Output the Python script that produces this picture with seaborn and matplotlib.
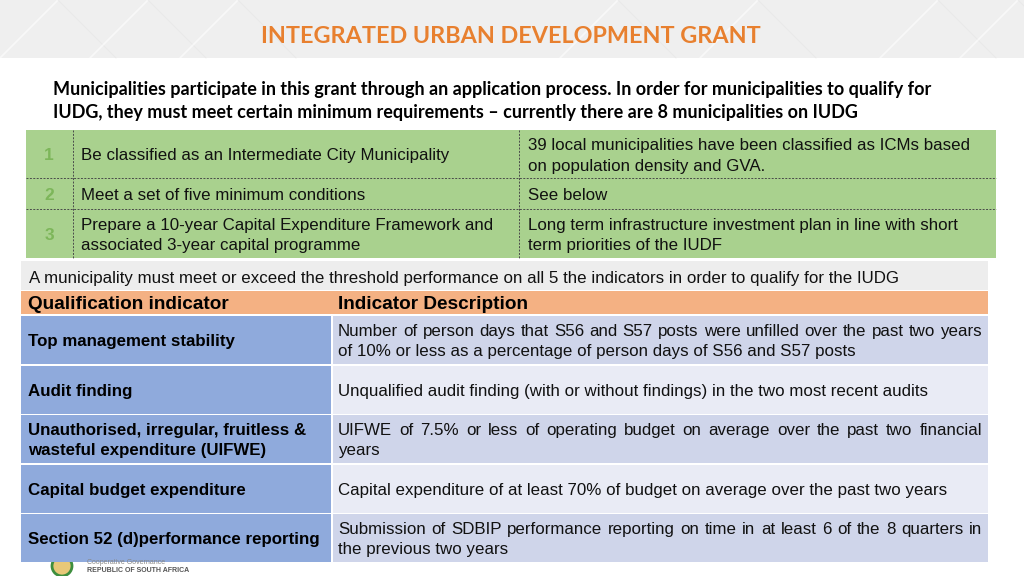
import matplotlib
matplotlib.use("Agg")
import matplotlib.pyplot as plt
import seaborn as sns
from matplotlib.patches import Rectangle, Circle

# ---------------- content ----------------
title = "INTEGRATED URBAN DEVELOPMENT GRANT"
intro_lines = [
    "Municipalities participate in this grant through an application process. In order for municipalities to qualify for",
    "IUDG, they must meet certain minimum requirements \u2013 currently there are 8 municipalities on IUDG",
]
req_numbers = ["1", "2", "3"]
req_items = [
    ["Be classified as an Intermediate City Municipality"],
    ["Meet a set of five minimum conditions"],
    ["Prepare a 10-year Capital Expenditure Framework and", "associated 3-year capital programme"],
]
req_notes = [
    ["39 local municipalities have been classified as ICMs based", "on population density and GVA."],
    ["See below"],
    ["Long term infrastructure investment plan in line with short", "term priorities of the IUDF"],
]
threshold_note = ("A municipality must meet or exceed the threshold performance on all 5 the "
                  "indicators in order to qualify for the IUDG")
col_headers = ["Qualification indicator", "Indicator Description"]
indicators = [
    ["Top management stability"],
    ["Audit finding"],
    ["Unauthorised, irregular, fruitless &", "wasteful expenditure (UIFWE)"],
    ["Capital budget expenditure"],
    ["Section 52 (d)performance reporting"],
]
descriptions = [
    ["Number of person days that S56 and S57 posts were unfilled over the past two years",
     "of 10% or less as a percentage of person days of S56 and S57 posts"],
    ["Unqualified audit finding (with or without findings) in the two most recent audits"],
    ["UIFWE of 7.5% or less of operating budget on average over the past two financial",
     "years"],
    ["Capital expenditure of at least 70% of budget on average over the past two years"],
    ["Submission of SDBIP performance reporting on time in at least 6 of the 8 quarters in",
     "the previous two years"],
]
footer_lines = ["Cooperative Governance", "REPUBLIC OF SOUTH AFRICA"]

# ---------------- style ----------------
sns.set_theme(style="white")
plt.rcParams["font.family"] = ["Liberation Sans", "DejaVu Sans"]

GREEN = "#A9D18E"
NUM_GREEN = "#7DB65A"
ORANGE = "#F4B183"
BLUE = "#8FAADC"
ROW_DARK = "#CFD5EA"
ROW_LIGHT = "#E9EBF5"
GRAY_BAND = "#EDEDED"
TITLE_ORANGE = "#E8802F"
BODY = 12.2
DY = 1.8  # optical centring offset

fig = plt.figure(figsize=(10.24, 5.76), dpi=100)
ax = fig.add_axes([0, 0, 1, 1])
ax.set_xlim(0, 1024)
ax.set_ylim(576, 0)
ax.axis("off")
fig.canvas.draw()
renderer = fig.canvas.get_renderer()


def box(x, y, w, h, c, z=1):
    ax.add_patch(Rectangle((x, y), w, h, facecolor=c, edgecolor="none", lw=0, zorder=z))


def justified(x0, x1, y, line, **kw):
    """Place the words of a line so that it spans x0..x1 (justified paragraph line)."""
    words = line.split(" ")
    arts, widths = [], []
    for w in words:
        t = ax.text(x0, y, w, ha="left", va="center", **kw)
        bb = t.get_window_extent(renderer)
        arts.append(t)
        widths.append(bb.width)
    gap = (x1 - x0 - sum(widths)) / max(len(words) - 1, 1)
    x = x0
    for t, wd in zip(arts, widths):
        t.set_x(x)
        x += wd + gap


# ---------------- header band ----------------
box(0, 0, 1024, 58, "#EFEFEF", 0)
for x0 in [0, 90, 180, 560, 700, 880, 960]:
    ax.plot([x0, x0 + 58], [58, 0], color="white", lw=1.2, alpha=0.6, zorder=1)
    ax.plot([x0 + 58, x0 + 116], [0, 58], color="#E6E6E6", lw=0.8, alpha=0.6, zorder=1)
ax.text(511, 35 + DY, title, ha="center", va="center", color=TITLE_ORANGE,
        fontsize=16.8, fontweight="bold", family=["Lato", "DejaVu Sans"], zorder=2)

# ---------------- intro ----------------
for i, line in enumerate(intro_lines):
    ax.text(53, 88 + 23 * i + DY, line, ha="left", va="center", color="black",
            fontsize=13, fontweight="bold", family=["Lato", "DejaVu Sans"])

# ---------------- top requirements table ----------------
t_left, t_c1, t_c2, t_right = 26, 73, 519, 996
row_bounds = [130, 178, 209, 258]
box(t_left, row_bounds[0], t_right - t_left, row_bounds[-1] - row_bounds[0], GREEN)
for yb in row_bounds[1:-1]:
    ax.plot([t_left, t_right], [yb, yb], color="#4A4A4A", lw=0.7,
            ls=(0, (2, 1.5)), zorder=2)
for xb in [t_c1, t_c2]:
    ax.plot([xb, xb], [row_bounds[0], row_bounds[-1]], color="#4A4A4A", lw=0.7,
            ls=(0, (2, 1.5)), zorder=2)

LINE_GAP = 20.5
for i in range(len(req_numbers)):
    yc = (row_bounds[i] + row_bounds[i + 1]) / 2 + DY
    ax.text(49, yc, req_numbers[i], ha="center", va="center", color=NUM_GREEN,
            fontsize=12.5, fontweight="bold", zorder=3)
    for lines, x in [(req_items[i], 81), (req_notes[i], 528)]:
        n = len(lines)
        for k, line in enumerate(lines):
            y = yc + (k - (n - 1) / 2) * LINE_GAP
            ax.text(x, y, line, ha="left", va="center", color="#111111",
                    fontsize=BODY, zorder=3)

# ---------------- bottom indicator table ----------------
b_left, b_mid, b_right = 21, 332, 988
box(b_left, 261, b_right - b_left, 29, GRAY_BAND)
ax.text(29, 277 + DY, threshold_note, ha="left", va="center", color="#111111",
        fontsize=BODY, zorder=3)

box(b_left, 291, b_right - b_left, 23, ORANGE)
ax.text(28, 302.5 + DY, col_headers[0], ha="left", va="center", color="black",
        fontsize=13.7, fontweight="bold", zorder=3)
ax.text(338, 302.5 + DY, col_headers[1], ha="left", va="center", color="black",
        fontsize=13.7, fontweight="bold", zorder=3)

row_tops = [316, 366, 415, 465, 514]
row_h = 47.5
for i in range(len(indicators)):
    top = row_tops[i]
    box(b_left, top, b_mid - 1 - b_left, row_h, BLUE)
    box(b_mid + 1, top, b_right - b_mid - 1, row_h, ROW_DARK if i % 2 == 0 else ROW_LIGHT)
    yc = top + row_h / 2 + DY
    n = len(indicators[i])
    for k, line in enumerate(indicators[i]):
        y = yc + (k - (n - 1) / 2) * LINE_GAP
        ax.text(28, y, line, ha="left", va="center", color="black",
                fontsize=BODY, fontweight="bold", zorder=3)
    n = len(descriptions[i])
    for k, line in enumerate(descriptions[i]):
        y = yc + (k - (n - 1) / 2) * LINE_GAP
        if n > 1 and k < n - 1:
            justified(338, 982, y, line, color="#111111", fontsize=BODY, zorder=3)
        else:
            ax.text(338, y, line, ha="left", va="center", color="#111111",
                    fontsize=BODY, zorder=3)

# ---------------- footer logo text ----------------
ax.text(87, 563, footer_lines[0], ha="left", va="center", color="#888888", fontsize=5)
ax.text(87, 570, footer_lines[1], ha="left", va="center", color="#555555",
        fontsize=5, fontweight="bold")
ax.add_patch(Circle((62, 566), 10, facecolor="#E8C878", edgecolor="#3E8E3E", lw=2, zorder=0))

fig.savefig("out.png", dpi=100)
